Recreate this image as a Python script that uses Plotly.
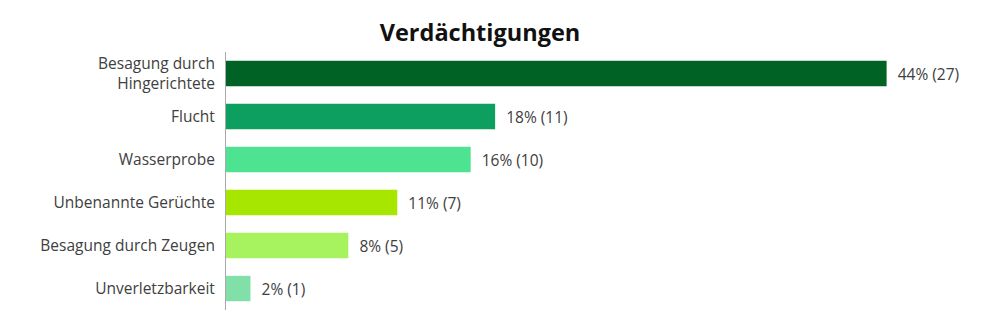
import plotly.graph_objects as go

categories = ["Besagung durch<br>Hingerichtete", "Flucht", "Wasserprobe",
              "Unbenannte Gerüchte", "Besagung durch Zeugen", "Unverletzbarkeit"]
counts = [27, 11, 10, 7, 5, 1]
percents = [44, 18, 16, 11, 8, 2]
colors = ["#006325", "#0d9f5f", "#4de391", "#a6e600", "#a7f25f", "#80e0a8"]

labels = [f"  {p}% ({c})" for p, c in zip(percents, counts)]

fig = go.Figure(go.Bar(
    x=counts, y=categories, orientation="h",
    marker=dict(color=colors, line=dict(width=0)),
    text=labels, textposition="outside", cliponaxis=False,
    textfont=dict(size=15.5, color="#404040", family="Open Sans, sans-serif"),
    width=0.59,
))

fig.update_layout(
    width=1000, height=324,
    margin=dict(l=226, r=40, t=52, b=14),
    paper_bgcolor="white", plot_bgcolor="white",
    showlegend=False,
    title=dict(text="<b>Verdächtigungen</b>", xref="container", yref="container",
               x=0.48, y=0.90, xanchor="center", yanchor="middle",
               font=dict(size=23.5, color="#111111", family="Open Sans, sans-serif")),
    font=dict(family="Open Sans, sans-serif"),
    bargap=0.4,
)
fig.update_xaxes(range=[0, 30], visible=False, showgrid=False, zeroline=False)
fig.update_yaxes(autorange="reversed", showline=True, linecolor="#aaaaaa", linewidth=1,
                 ticks="", ticklabelstandoff=7, showgrid=False,
                 tickfont=dict(size=15.5, color="#404040", family="Open Sans, sans-serif"))

fig.write_html("out.html")
